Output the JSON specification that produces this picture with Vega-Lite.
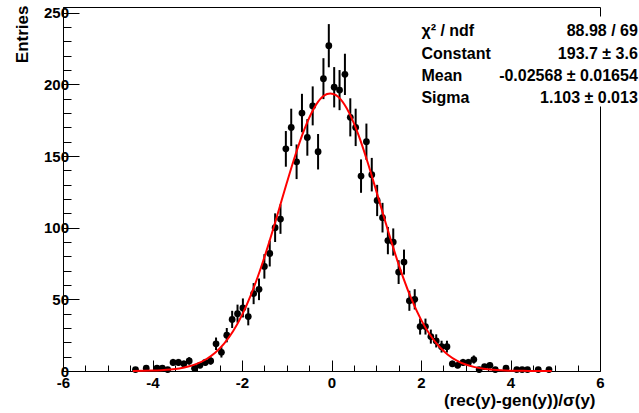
{
  "$schema": "https://vega.github.io/schema/vega-lite/v6.json",
  "width": 537,
  "height": 364,
  "autosize": {"type": "none"},
  "padding": {"left": 63, "top": 7, "right": 39, "bottom": 42},
  "background": "white",
  "config": {
    "view": {"stroke": "black", "strokeWidth": 1},
    "axis": {
      "labelFont": "Liberation Sans", "labelFontWeight": "bold", "labelFontSize": 15, "labelColor": "black",
      "titleFont": "Liberation Sans", "titleFontWeight": "bold", "titleFontSize": 17, "titleColor": "black",
      "domainColor": "black", "tickColor": "black", "grid": false,
      "labelFlush": false, "labelOverlap": false, "labelBound": false
    }
  },
  "datasets": {
    "hist": [
      {"x": -4.38, "y": 1, "lo": 0, "hi": 2},
      {"x": -4.14, "y": 2, "lo": 0.59, "hi": 3.41},
      {"x": -3.90, "y": 2, "lo": 0.59, "hi": 3.41},
      {"x": -3.78, "y": 2, "lo": 0.59, "hi": 3.41},
      {"x": -3.66, "y": 1, "lo": 0, "hi": 2},
      {"x": -3.54, "y": 6, "lo": 3.55, "hi": 8.45},
      {"x": -3.42, "y": 6, "lo": 3.55, "hi": 8.45},
      {"x": -3.30, "y": 5, "lo": 2.76, "hi": 7.24},
      {"x": -3.18, "y": 7, "lo": 4.35, "hi": 9.65},
      {"x": -3.06, "y": 2, "lo": 0.59, "hi": 3.41},
      {"x": -2.94, "y": 4, "lo": 2, "hi": 6},
      {"x": -2.82, "y": 6, "lo": 3.55, "hi": 8.45},
      {"x": -2.70, "y": 7, "lo": 4.35, "hi": 9.65},
      {"x": -2.58, "y": 19, "lo": 14.64, "hi": 23.36},
      {"x": -2.46, "y": 13, "lo": 9.39, "hi": 16.61},
      {"x": -2.34, "y": 25, "lo": 20, "hi": 30},
      {"x": -2.22, "y": 36, "lo": 30, "hi": 42},
      {"x": -2.10, "y": 40, "lo": 33.68, "hi": 46.32},
      {"x": -1.98, "y": 44, "lo": 37.37, "hi": 50.63},
      {"x": -1.86, "y": 38, "lo": 31.84, "hi": 44.16},
      {"x": -1.74, "y": 54, "lo": 46.65, "hi": 61.35},
      {"x": -1.62, "y": 57, "lo": 49.45, "hi": 64.55},
      {"x": -1.50, "y": 73, "lo": 64.46, "hi": 81.54},
      {"x": -1.38, "y": 82, "lo": 72.94, "hi": 91.06},
      {"x": -1.26, "y": 100, "lo": 90, "hi": 110},
      {"x": -1.14, "y": 106, "lo": 95.7, "hi": 116.3},
      {"x": -1.02, "y": 155, "lo": 142.55, "hi": 167.45},
      {"x": -0.90, "y": 170, "lo": 156.96, "hi": 183.04},
      {"x": -0.78, "y": 146, "lo": 133.92, "hi": 158.08},
      {"x": -0.66, "y": 180, "lo": 166.58, "hi": 193.42},
      {"x": -0.54, "y": 163, "lo": 150.23, "hi": 175.77},
      {"x": -0.42, "y": 185, "lo": 171.4, "hi": 198.6},
      {"x": -0.30, "y": 153, "lo": 140.63, "hi": 165.37},
      {"x": -0.18, "y": 204, "lo": 189.72, "hi": 218.28},
      {"x": -0.06, "y": 227, "lo": 211.93, "hi": 242.07},
      {"x": 0.06, "y": 198, "lo": 183.93, "hi": 212.07},
      {"x": 0.18, "y": 196, "lo": 182, "hi": 210},
      {"x": 0.30, "y": 207, "lo": 192.61, "hi": 221.39},
      {"x": 0.42, "y": 177, "lo": 163.7, "hi": 190.3},
      {"x": 0.54, "y": 170, "lo": 156.96, "hi": 183.04},
      {"x": 0.66, "y": 136, "lo": 124.34, "hi": 147.66},
      {"x": 0.78, "y": 160, "lo": 147.35, "hi": 172.65},
      {"x": 0.90, "y": 137, "lo": 125.3, "hi": 148.7},
      {"x": 1.02, "y": 119, "lo": 108.09, "hi": 129.91},
      {"x": 1.14, "y": 107, "lo": 96.66, "hi": 117.34},
      {"x": 1.26, "y": 91, "lo": 81.46, "hi": 100.54},
      {"x": 1.38, "y": 90, "lo": 80.51, "hi": 99.49},
      {"x": 1.50, "y": 69, "lo": 60.69, "hi": 77.31},
      {"x": 1.62, "y": 76, "lo": 67.28, "hi": 84.72},
      {"x": 1.74, "y": 49, "lo": 42, "hi": 56},
      {"x": 1.86, "y": 50, "lo": 42.93, "hi": 57.07},
      {"x": 1.98, "y": 31, "lo": 25.43, "hi": 36.57},
      {"x": 2.10, "y": 31, "lo": 25.43, "hi": 36.57},
      {"x": 2.22, "y": 24, "lo": 19.1, "hi": 28.9},
      {"x": 2.34, "y": 21, "lo": 16.42, "hi": 25.58},
      {"x": 2.46, "y": 17, "lo": 12.88, "hi": 21.12},
      {"x": 2.58, "y": 17, "lo": 12.88, "hi": 21.12},
      {"x": 2.70, "y": 5, "lo": 2.76, "hi": 7.24},
      {"x": 2.82, "y": 4, "lo": 2, "hi": 6},
      {"x": 2.94, "y": 6, "lo": 3.55, "hi": 8.45},
      {"x": 3.06, "y": 6, "lo": 3.55, "hi": 8.45},
      {"x": 3.18, "y": 8, "lo": 5.17, "hi": 10.83},
      {"x": 3.30, "y": 1, "lo": 0, "hi": 2},
      {"x": 3.42, "y": 3, "lo": 1.27, "hi": 4.73},
      {"x": 3.54, "y": 4, "lo": 2, "hi": 6},
      {"x": 3.66, "y": 1, "lo": 0, "hi": 2},
      {"x": 3.90, "y": 2, "lo": 0.59, "hi": 3.41},
      {"x": 4.14, "y": 1, "lo": 0, "hi": 2},
      {"x": 4.26, "y": 1, "lo": 0, "hi": 2},
      {"x": 4.38, "y": 1, "lo": 0, "hi": 2},
      {"x": 4.62, "y": 1, "lo": 0, "hi": 2},
      {"x": 4.86, "y": 1, "lo": 0, "hi": 2}
    ],
    "fit": [
      {"x": -4.44, "y": 0.06}, {"x": -4.2, "y": 0.15}, {"x": -4.0, "y": 0.29}, {"x": -3.8, "y": 0.56},
      {"x": -3.6, "y": 1.02}, {"x": -3.4, "y": 1.8}, {"x": -3.2, "y": 3.08}, {"x": -3.0, "y": 5.11},
      {"x": -2.8, "y": 8.2}, {"x": -2.6, "y": 12.72}, {"x": -2.4, "y": 19.1}, {"x": -2.2, "y": 27.75},
      {"x": -2.0, "y": 39.03}, {"x": -1.8, "y": 53.12}, {"x": -1.6, "y": 69.94}, {"x": -1.4, "y": 89.13},
      {"x": -1.2, "y": 109.9}, {"x": -1.0, "y": 131.14}, {"x": -0.8, "y": 151.39}, {"x": -0.6, "y": 169.14},
      {"x": -0.4, "y": 182.86}, {"x": -0.2, "y": 191.3}, {"x": -0.1, "y": 193.26}, {"x": -0.0257, "y": 193.7},
      {"x": 0.1, "y": 192.44}, {"x": 0.2, "y": 189.69}, {"x": 0.4, "y": 179.8}, {"x": 0.6, "y": 164.91},
      {"x": 0.8, "y": 146.37}, {"x": 1.0, "y": 125.71}, {"x": 1.2, "y": 104.47}, {"x": 1.4, "y": 84.0},
      {"x": 1.6, "y": 65.38}, {"x": 1.8, "y": 49.22}, {"x": 2.0, "y": 35.87}, {"x": 2.2, "y": 25.29},
      {"x": 2.4, "y": 17.25}, {"x": 2.6, "y": 11.39}, {"x": 2.8, "y": 7.28}, {"x": 3.0, "y": 4.5},
      {"x": 3.2, "y": 2.69}, {"x": 3.4, "y": 1.56}, {"x": 3.6, "y": 0.87}, {"x": 3.8, "y": 0.47},
      {"x": 4.0, "y": 0.25}, {"x": 4.2, "y": 0.13}, {"x": 4.4, "y": 0.06}, {"x": 4.6, "y": 0.03},
      {"x": 4.92, "y": 0.01}
    ],
    "stats": [
      {"label": "χ² / ndf", "value": "88.98 / 69", "row": 233.6},
      {"label": "Constant", "value": "193.7 ± 3.6", "row": 217.9},
      {"label": "Mean", "value": "-0.02568 ± 0.01654", "row": 202.6},
      {"label": "Sigma", "value": "1.103 ± 0.013", "row": 187.3}
    ]
  },
  "layer": [
    {
      "data": {"name": "hist"},
      "mark": {"type": "rule", "color": "black", "strokeWidth": 2},
      "encoding": {
        "x": {"field": "x", "type": "quantitative", "scale": {"domain": [-6, 6], "nice": false, "zero": false},
          "axis": {"title": "(rec(y)-gen(y))/σ(y)", "values": [-6, -5.5, -5, -4.5, -4, -3.5, -3, -2.5, -2, -1.5, -1, -0.5, 0, 0.5, 1, 1.5, 2, 2.5, 3, 3.5, 4, 4.5, 5, 5.5, 6], "tickSize": {"condition": {"test": "datum.value % 2 === 0", "value": -11}, "value": -6}, "labelExpr": "datum.value % 2 === 0 ? '' + datum.value : ''", "labelPadding": 15, "titleAnchor": "end", "titleAlign": "right", "titleBaseline": "alphabetic", "titleX": 532, "titleY": 34}},
        "y": {"field": "lo", "type": "quantitative", "scale": {"domain": [0, 254], "nice": false, "zero": true},
          "axis": {"title": "Entries", "values": [0, 10, 20, 30, 40, 50, 60, 70, 80, 90, 100, 110, 120, 130, 140, 150, 160, 170, 180, 190, 200, 210, 220, 230, 240, 250], "tickSize": {"condition": {"test": "datum.value % 50 === 0", "value": -16}, "value": -8}, "labelExpr": "datum.value % 50 === 0 ? datum.label : ''", "labelPadding": 10.5, "titleAngle": 270, "titleAlign": "right", "titleBaseline": "alphabetic", "titleX": -36, "titleY": -2}},
        "y2": {"field": "hi"}
      }
    },
    {
      "data": {"name": "hist"},
      "mark": {"type": "circle", "color": "black", "opacity": 1, "size": 46},
      "encoding": {
        "x": {"field": "x", "type": "quantitative",
          "axis": {"title": "(rec(y)-gen(y))/σ(y)", "values": [-6, -5.5, -5, -4.5, -4, -3.5, -3, -2.5, -2, -1.5, -1, -0.5, 0, 0.5, 1, 1.5, 2, 2.5, 3, 3.5, 4, 4.5, 5, 5.5, 6], "tickSize": {"condition": {"test": "datum.value % 2 === 0", "value": -11}, "value": -6}, "labelExpr": "datum.value % 2 === 0 ? '' + datum.value : ''", "labelPadding": 15, "titleAnchor": "end", "titleAlign": "right", "titleBaseline": "alphabetic", "titleX": 532, "titleY": 34}},
        "y": {"field": "y", "type": "quantitative",
          "axis": {"title": "Entries", "values": [0, 10, 20, 30, 40, 50, 60, 70, 80, 90, 100, 110, 120, 130, 140, 150, 160, 170, 180, 190, 200, 210, 220, 230, 240, 250], "tickSize": {"condition": {"test": "datum.value % 50 === 0", "value": -16}, "value": -8}, "labelExpr": "datum.value % 50 === 0 ? datum.label : ''", "labelPadding": 10.5, "titleAngle": 270, "titleAlign": "right", "titleBaseline": "alphabetic", "titleX": -36, "titleY": -2}}
      }
    },
    {
      "data": {"name": "fit"},
      "mark": {"type": "line", "color": "#ff0000", "strokeWidth": 2, "interpolate": "monotone"},
      "encoding": {
        "x": {"field": "x", "type": "quantitative",
          "axis": {"title": "(rec(y)-gen(y))/σ(y)", "values": [-6, -5.5, -5, -4.5, -4, -3.5, -3, -2.5, -2, -1.5, -1, -0.5, 0, 0.5, 1, 1.5, 2, 2.5, 3, 3.5, 4, 4.5, 5, 5.5, 6], "tickSize": {"condition": {"test": "datum.value % 2 === 0", "value": -11}, "value": -6}, "labelExpr": "datum.value % 2 === 0 ? '' + datum.value : ''", "labelPadding": 15, "titleAnchor": "end", "titleAlign": "right", "titleBaseline": "alphabetic", "titleX": 532, "titleY": 34}},
        "y": {"field": "y", "type": "quantitative",
          "axis": {"title": "Entries", "values": [0, 10, 20, 30, 40, 50, 60, 70, 80, 90, 100, 110, 120, 130, 140, 150, 160, 170, 180, 190, 200, 210, 220, 230, 240, 250], "tickSize": {"condition": {"test": "datum.value % 50 === 0", "value": -16}, "value": -8}, "labelExpr": "datum.value % 50 === 0 ? datum.label : ''", "labelPadding": 10.5, "titleAngle": 270, "titleAlign": "right", "titleBaseline": "alphabetic", "titleX": -36, "titleY": -2}}
      }
    },
    {
      "data": {"values": [{"box": "stats"}]},
      "mark": {"type": "rect", "color": "white", "opacity": 1},
      "encoding": {
        "x": {"datum": 1.84, "type": "quantitative",
          "axis": {"title": "(rec(y)-gen(y))/σ(y)", "values": [-6, -5.5, -5, -4.5, -4, -3.5, -3, -2.5, -2, -1.5, -1, -0.5, 0, 0.5, 1, 1.5, 2, 2.5, 3, 3.5, 4, 4.5, 5, 5.5, 6], "tickSize": {"condition": {"test": "datum.value % 2 === 0", "value": -11}, "value": -6}, "labelExpr": "datum.value % 2 === 0 ? '' + datum.value : ''", "labelPadding": 15, "titleAnchor": "end", "titleAlign": "right", "titleBaseline": "alphabetic", "titleX": 532, "titleY": 34}},
        "x2": {"datum": 6.87},
        "y": {"datum": 247.4, "type": "quantitative",
          "axis": {"title": "Entries", "values": [0, 10, 20, 30, 40, 50, 60, 70, 80, 90, 100, 110, 120, 130, 140, 150, 160, 170, 180, 190, 200, 210, 220, 230, 240, 250], "tickSize": {"condition": {"test": "datum.value % 50 === 0", "value": -16}, "value": -8}, "labelExpr": "datum.value % 50 === 0 ? datum.label : ''", "labelPadding": 10.5, "titleAngle": 270, "titleAlign": "right", "titleBaseline": "alphabetic", "titleX": -36, "titleY": -2}},
        "y2": {"datum": 184.5}
      }
    },
    {
      "data": {"name": "stats"},
      "mark": {"type": "text", "align": "left", "baseline": "alphabetic", "font": "Liberation Sans", "fontWeight": "bold", "fontSize": 16, "color": "black"},
      "encoding": {
        "text": {"field": "label", "type": "nominal"},
        "x": {"datum": 2.01, "type": "quantitative",
          "axis": {"title": "(rec(y)-gen(y))/σ(y)", "values": [-6, -5.5, -5, -4.5, -4, -3.5, -3, -2.5, -2, -1.5, -1, -0.5, 0, 0.5, 1, 1.5, 2, 2.5, 3, 3.5, 4, 4.5, 5, 5.5, 6], "tickSize": {"condition": {"test": "datum.value % 2 === 0", "value": -11}, "value": -6}, "labelExpr": "datum.value % 2 === 0 ? '' + datum.value : ''", "labelPadding": 15, "titleAnchor": "end", "titleAlign": "right", "titleBaseline": "alphabetic", "titleX": 532, "titleY": 34}},
        "y": {"field": "row", "type": "quantitative",
          "axis": {"title": "Entries", "values": [0, 10, 20, 30, 40, 50, 60, 70, 80, 90, 100, 110, 120, 130, 140, 150, 160, 170, 180, 190, 200, 210, 220, 230, 240, 250], "tickSize": {"condition": {"test": "datum.value % 50 === 0", "value": -16}, "value": -8}, "labelExpr": "datum.value % 50 === 0 ? datum.label : ''", "labelPadding": 10.5, "titleAngle": 270, "titleAlign": "right", "titleBaseline": "alphabetic", "titleX": -36, "titleY": -2}}
      }
    },
    {
      "data": {"name": "stats"},
      "mark": {"type": "text", "align": "right", "baseline": "alphabetic", "font": "Liberation Sans", "fontWeight": "bold", "fontSize": 16, "color": "black"},
      "encoding": {
        "text": {"field": "value", "type": "nominal"},
        "x": {"datum": 6.845, "type": "quantitative",
          "axis": {"title": "(rec(y)-gen(y))/σ(y)", "values": [-6, -5.5, -5, -4.5, -4, -3.5, -3, -2.5, -2, -1.5, -1, -0.5, 0, 0.5, 1, 1.5, 2, 2.5, 3, 3.5, 4, 4.5, 5, 5.5, 6], "tickSize": {"condition": {"test": "datum.value % 2 === 0", "value": -11}, "value": -6}, "labelExpr": "datum.value % 2 === 0 ? '' + datum.value : ''", "labelPadding": 15, "titleAnchor": "end", "titleAlign": "right", "titleBaseline": "alphabetic", "titleX": 532, "titleY": 34}},
        "y": {"field": "row", "type": "quantitative",
          "axis": {"title": "Entries", "values": [0, 10, 20, 30, 40, 50, 60, 70, 80, 90, 100, 110, 120, 130, 140, 150, 160, 170, 180, 190, 200, 210, 220, 230, 240, 250], "tickSize": {"condition": {"test": "datum.value % 50 === 0", "value": -16}, "value": -8}, "labelExpr": "datum.value % 50 === 0 ? datum.label : ''", "labelPadding": 10.5, "titleAngle": 270, "titleAlign": "right", "titleBaseline": "alphabetic", "titleX": -36, "titleY": -2}}
      }
    }
  ]
}
